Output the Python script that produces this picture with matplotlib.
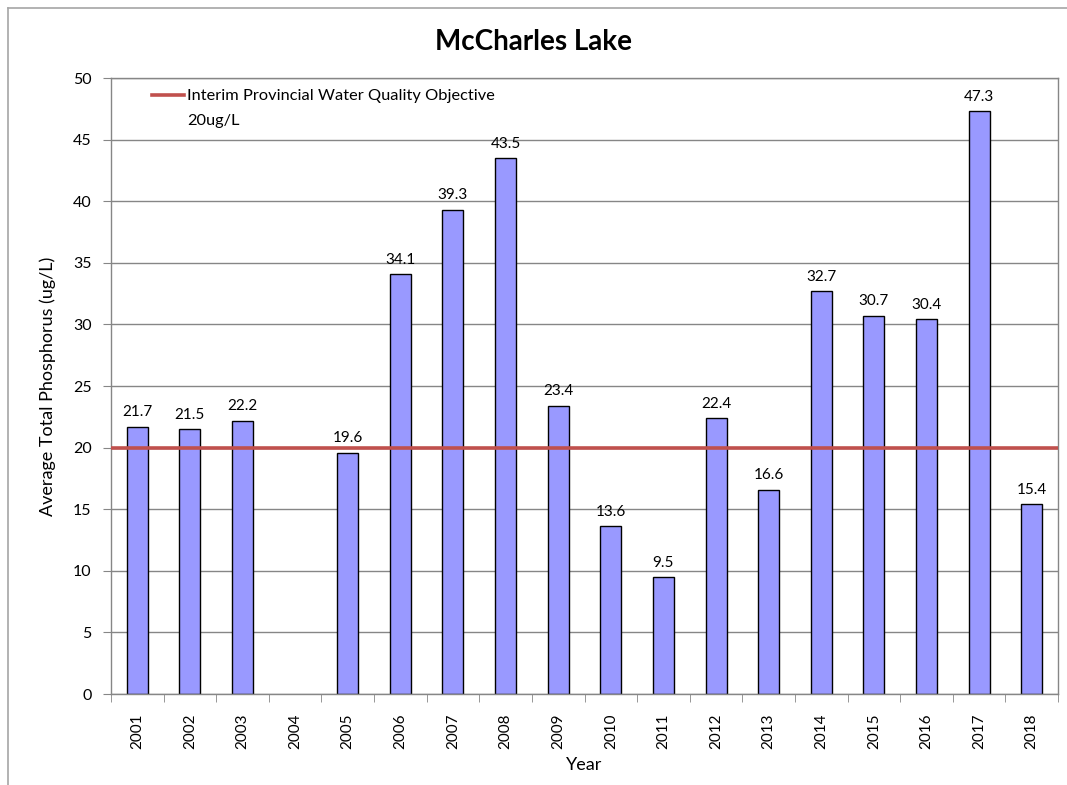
import matplotlib
matplotlib.use("Agg")
import matplotlib.pyplot as plt
from matplotlib.lines import Line2D
import numpy as np

years = ["2001", "2002", "2003", "2004", "2005", "2006", "2007", "2008", "2009",
         "2010", "2011", "2012", "2013", "2014", "2015", "2016", "2017", "2018"]
phosphorus = [21.7, 21.5, 22.2, None, 19.6, 34.1, 39.3, 43.5, 23.4,
              13.6, 9.5, 22.4, 16.6, 32.7, 30.7, 30.4, 47.3, 15.4]
objective = 20
title = "McCharles Lake"
legend_label = "Interim Provincial Water Quality Objective\n20ug/L"

plt.rcParams['font.family'] = ['Lato', 'DejaVu Sans']

fig = plt.figure(figsize=(10.67, 7.85), dpi=100)
ax = fig.add_axes([0.104, 0.1159, 0.8876, 0.7847])

# chart area border
fig.add_artist(Line2D([8/1067, 8/1067], [0, 1 - 8/785], transform=fig.transFigure,
                      color="#A6A6A6", lw=1.2))
fig.add_artist(Line2D([8/1067, 1], [1 - 8/785, 1 - 8/785], transform=fig.transFigure,
                      color="#A6A6A6", lw=1.2))

x = np.arange(len(years))
vals = [v if v is not None else 0 for v in phosphorus]
ax.set_axisbelow(True)
ax.yaxis.grid(True, color="#868686", lw=1)
bars = ax.bar(x, vals, width=0.4, color="#9999FF", edgecolor="black", linewidth=1, zorder=2)
for i, v in enumerate(phosphorus):
    if v is None:
        bars[i].set_visible(False)
        continue
    ax.text(i, v + 0.6, f"{v:.1f}", ha="center", va="bottom", fontsize=11, zorder=4)

line = ax.axhline(objective, color="#C0504D", lw=2.6, zorder=3)

ax.set_xlim(-0.5, len(years) - 0.5)
ax.set_ylim(0, 50)
ax.set_yticks(np.arange(0, 51, 5))
ax.set_xticks(x)
ax.set_xticklabels(years, rotation=90, fontsize=11)
ax.set_xticks(np.arange(-0.5, len(years), 1), minor=True)
ax.tick_params(axis="x", which="major", length=0, pad=14)
ax.tick_params(axis="x", which="minor", length=6, color="#868686", direction="out")
ax.tick_params(axis="y", length=6, color="#868686", labelsize=11.5, pad=8)
for s in ax.spines.values():
    s.set_color("#868686")
    s.set_linewidth(1)

ax.set_ylabel("Average Total Phosphorus (ug/L)", fontsize=13, labelpad=12)
ax.set_xlabel("Year", fontsize=13, labelpad=6)
fig.text(0.5, 0.947, title, ha="center", va="center", fontsize=20, fontweight="bold")

lab1, lab2 = legend_label.split("\n")
blank = Line2D([], [], color="none")
leg = ax.legend([line, blank], [lab1, lab2], loc="upper left", frameon=False, fontsize=11.8,
                handlelength=2.0, handletextpad=0.15, labelspacing=0.6,
                borderaxespad=0.0, bbox_to_anchor=(0.036, 0.993))

fig.savefig("out.png", dpi=100)
